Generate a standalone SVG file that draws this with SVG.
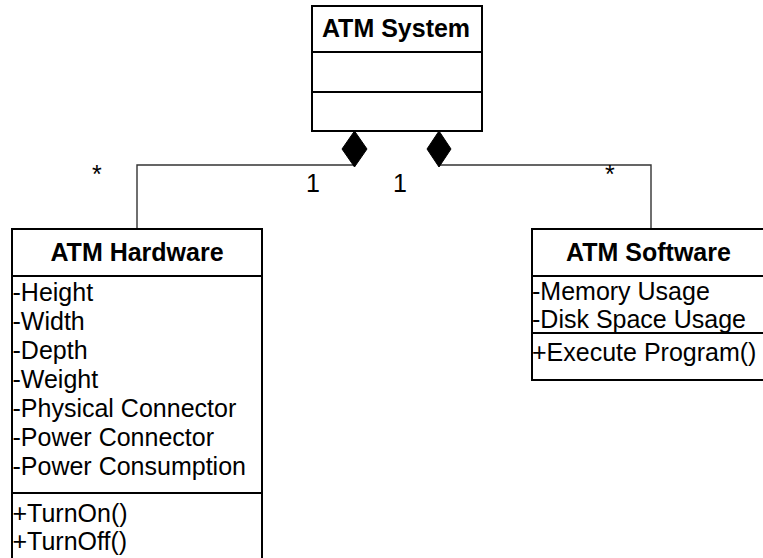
<svg xmlns="http://www.w3.org/2000/svg" width="763" height="558" viewBox="0 0 763 558">
<style>
.box{fill:#fff;stroke:#000;stroke-width:2}
.sep{stroke:#000;stroke-width:2}
.t{font-family:"Liberation Sans",Arial,sans-serif;font-size:25px;fill:#000}
.b{font-weight:bold;text-anchor:middle}
.con{fill:none;stroke:#333;stroke-width:1.4}
.dia{fill:#000;stroke:#000;stroke-width:1}
</style>
<rect width="763" height="558" fill="#fff"/>
<g id="connectors">
<polyline class="con" points="354,165 137,165 137,229"/>
<polyline class="con" points="439,165 651,165 651,229"/>
<text class="t" x="92" y="183">*</text>
<text class="t" x="306" y="192">1</text>
<text class="t" x="393" y="192">1</text>
<text class="t" x="605" y="183">*</text>
</g>
<g id="atm-system">
<rect class="box" x="312" y="6" width="170" height="125"/>
<line class="sep" x1="312" y1="52" x2="482" y2="52"/>
<line class="sep" x1="312" y1="92" x2="482" y2="92"/>
<text class="t b" x="396" y="37">ATM System</text>
<polygon class="dia" points="354.5,131 367,149 354.5,167 342,149"/>
<polygon class="dia" points="439,131 451,149 439,167 427,149"/>
</g>
<g id="atm-hardware">
<rect class="box" x="12" y="229" width="250" height="340"/>
<line class="sep" x1="12" y1="276" x2="262" y2="276"/>
<line class="sep" x1="12" y1="493" x2="262" y2="493"/>
<text class="t b" x="137" y="261">ATM Hardware</text>
<text class="t" x="12.5" y="301">-Height</text>
<text class="t" x="12.5" y="330">-Width</text>
<text class="t" x="12.5" y="359">-Depth</text>
<text class="t" x="12.5" y="388">-Weight</text>
<text class="t" x="12.5" y="417">-Physical Connector</text>
<text class="t" x="12.5" y="446">-Power Connector</text>
<text class="t" x="12.5" y="475">-Power Consumption</text>
<text class="t" x="12.5" y="522">+TurnOn()</text>
<text class="t" x="12.5" y="550">+TurnOff()</text>
</g>
<g id="atm-software">
<rect class="box" x="532" y="229" width="233" height="151"/>
<line class="sep" x1="532" y1="276" x2="765" y2="276"/>
<line class="sep" x1="532" y1="333" x2="765" y2="333"/>
<text class="t b" x="648.5" y="261">ATM Software</text>
<text class="t" x="532" y="300">-Memory Usage</text>
<text class="t" x="532" y="328">-Disk Space Usage</text>
<text class="t" x="532" y="361">+Execute Program()</text>
</g>
</svg>
